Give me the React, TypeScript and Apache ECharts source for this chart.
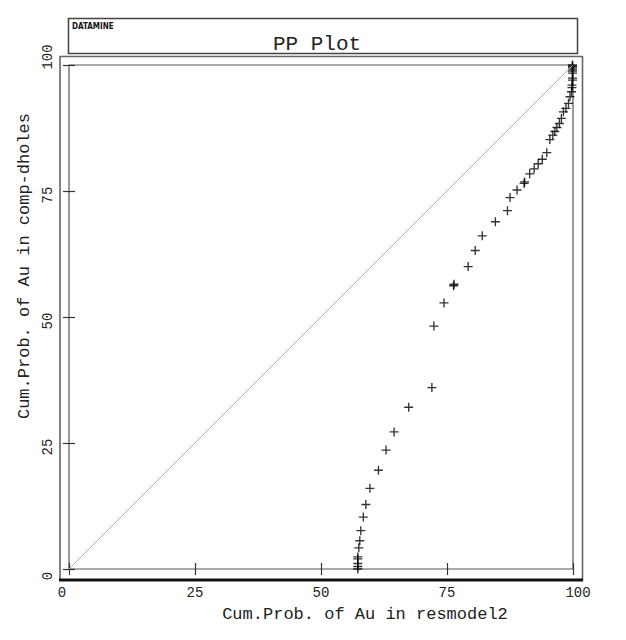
import React, { useEffect, useRef } from "react";
import * as echarts from "echarts";

// Cumulative probability of Au in resmodel2 (x) vs comp-dholes (y)
const probModel: number[] = [
  57.3, 57.3, 57.3, 57.3, 57.3, 57.5, 57.7, 57.9, 58.4, 58.9,
  59.7, 61.4, 62.9, 64.5, 67.4, 72.0, 72.4, 74.4, 76.3, 76.4,
  79.2, 80.6, 82.0, 84.6, 87.0, 87.5, 88.9, 90.3, 90.4, 91.4,
  92.3, 93.1, 93.9, 94.8, 95.4, 96.0, 96.4, 96.8, 97.3, 97.7,
  98.1, 98.6, 99.1, 99.4, 99.7, 99.8, 99.8, 99.9, 99.9, 99.9,
  99.9, 99.9, 99.9, 99.9, 99.9,
];
const probHoles: number[] = [
  0.0, 0.5, 1.1, 2.0, 2.4, 4.2, 5.6, 7.6, 10.3, 12.8,
  16.0, 19.6, 23.6, 27.2, 32.1, 36.0, 48.2, 52.8, 56.2, 56.5,
  60.0, 63.2, 66.1, 68.9, 71.1, 73.7, 75.2, 76.5, 76.8, 78.4,
  79.4, 80.4, 81.3, 82.6, 85.2, 86.1, 86.8, 87.6, 88.4, 89.4,
  90.7, 91.4, 92.4, 93.7, 94.7, 95.5, 96.0, 97.0, 97.4, 98.4,
  98.8, 99.2, 99.6, 99.8, 100.0,
];
const identityX: number[] = [0, 100];
const identityY: number[] = [0, 100];
const tickValues: number[] = [0, 25, 50, 75, 100];

const FONT = "'Liberation Mono', 'DejaVu Sans Mono', monospace";
const TXT = "#222";
const PLUS = "path://M4.25,0H5.75V4.25H10V5.75H5.75V10H4.25V5.75H0V4.25H4.25Z";

export default function App() {
  const ref = useRef<HTMLDivElement>(null);
  useEffect(() => {
    if (!ref.current) return;
    const chart = echarts.init(ref.current, undefined, { renderer: "svg" });
    const points = probModel.map((x, i) => [x, probHoles[i]]);
    const diag = identityX.map((x, i) => [x, identityY[i]]);
    const minV = tickValues[0];
    const maxV = tickValues[tickValues.length - 1];
    const step = tickValues[1] - tickValues[0];

    const fmt = (v: number) =>
      v === minV ? `{lo|${v}}` : v === maxV ? `{hi|${v}}` : `{n|${v}}`;

    const base = {
      type: "value" as const,
      min: minV,
      max: maxV,
      interval: step,
      splitLine: { show: false },
      axisLine: { show: false },
    };
    const tick = { show: true, inside: true, length: 6, lineStyle: { color: "#333", width: 1.2 } };

    chart.setOption({
      animation: false,
      backgroundColor: "#fff",
      grid: {
        left: 69,
        top: 65,
        width: 504,
        height: 504,
        show: true,
        borderColor: "#555",
        borderWidth: 1.2,
        backgroundColor: "transparent",
      },
      xAxis: [
        {
          ...base,
          position: "bottom",
          axisTick: tick,
          axisLabel: {
            margin: 17,
            formatter: fmt,
            rich: {
              n: { fontFamily: FONT, fontSize: 14, color: TXT },
              lo: { fontFamily: FONT, fontSize: 14, color: TXT, padding: [0, 14, 0, 0] },
              hi: { fontFamily: FONT, fontSize: 14, color: TXT, padding: [0, 0, 0, 10] },
            },
          },
          name: "Cum.Prob. of Au in resmodel2",
          nameLocation: "middle",
          nameGap: 37,
          nameTextStyle: {
            fontFamily: FONT,
            fontSize: 17,
            color: TXT,
            lineHeight: 16,
            padding: [0, 0, 0, 88],
          },
        },
        {
          ...base,
          position: "top",
          axisTick: tick,
          axisLabel: { show: false },
        },
      ],
      yAxis: [
        {
          ...base,
          position: "left",
          axisTick: tick,
          axisLabel: {
            rotate: 90,
            margin: 14,
            formatter: fmt,
            rich: {
              n: { fontFamily: FONT, fontSize: 14, color: TXT, padding: [0, 8, 0, 0] },
              lo: { fontFamily: FONT, fontSize: 14, color: TXT, padding: [0, 14, 0, 0] },
              hi: { fontFamily: FONT, fontSize: 14, color: TXT, padding: [0, 0, 0, 16] },
            },
          },
          name: "Cum.Prob. of Au in comp-dholes",
          nameLocation: "middle",
          nameRotate: 90,
          nameGap: 31,
          nameTextStyle: {
            fontFamily: FONT,
            fontSize: 17,
            color: TXT,
            lineHeight: 16,
            padding: [0, 0, 0, 102],
          },
        },
        {
          ...base,
          position: "right",
          axisTick: tick,
          axisLabel: { show: false },
        },
      ],
      graphic: [
        {
          type: "rect",
          shape: { x: 68.5, y: 18.5, width: 509, height: 35 },
          style: { fill: "none", stroke: "#444", lineWidth: 1.5 },
        },
        {
          type: "text",
          x: 72,
          y: 22,
          style: {
            text: "DATAMINE",
            fontFamily: "'DejaVu Sans Condensed', 'DejaVu Sans', sans-serif",
            fontSize: 8,
            fontWeight: "bold",
            fill: "#111",
          },
        },
        {
          type: "text",
          x: 317,
          y: 44,
          style: {
            text: "PP Plot",
            fontFamily: FONT,
            fontSize: 21,
            fill: TXT,
            align: "center",
            verticalAlign: "middle",
          },
        },
        {
          type: "rect",
          shape: { x: 60, y: 56.5, width: 522.5, height: 523.5 },
          style: { fill: "none", stroke: "#666", lineWidth: 1.6 },
        },
        {
          type: "line",
          shape: { x1: 59, y1: 580, x2: 583, y2: 580 },
          style: { stroke: "#111", lineWidth: 3 },
        },
      ],
      series: [
        {
          type: "line",
          xAxisIndex: 0,
          yAxisIndex: 0,
          data: diag,
          symbol: "none",
          lineStyle: { color: "#aaaaaa", width: 1 },
          silent: true,
        },
        {
          type: "scatter",
          xAxisIndex: 0,
          yAxisIndex: 0,
          data: points,
          symbol: PLUS,
          symbolSize: 9,
          clip: false,
          itemStyle: { color: "#000" },
        },
      ],
    });
    return () => chart.dispose();
  }, []);
  return (
    <div
      ref={ref}
      style={{ position: "fixed", left: 0, top: 0, width: 626, height: 640, background: "#fff" }}
    />
  );
}
